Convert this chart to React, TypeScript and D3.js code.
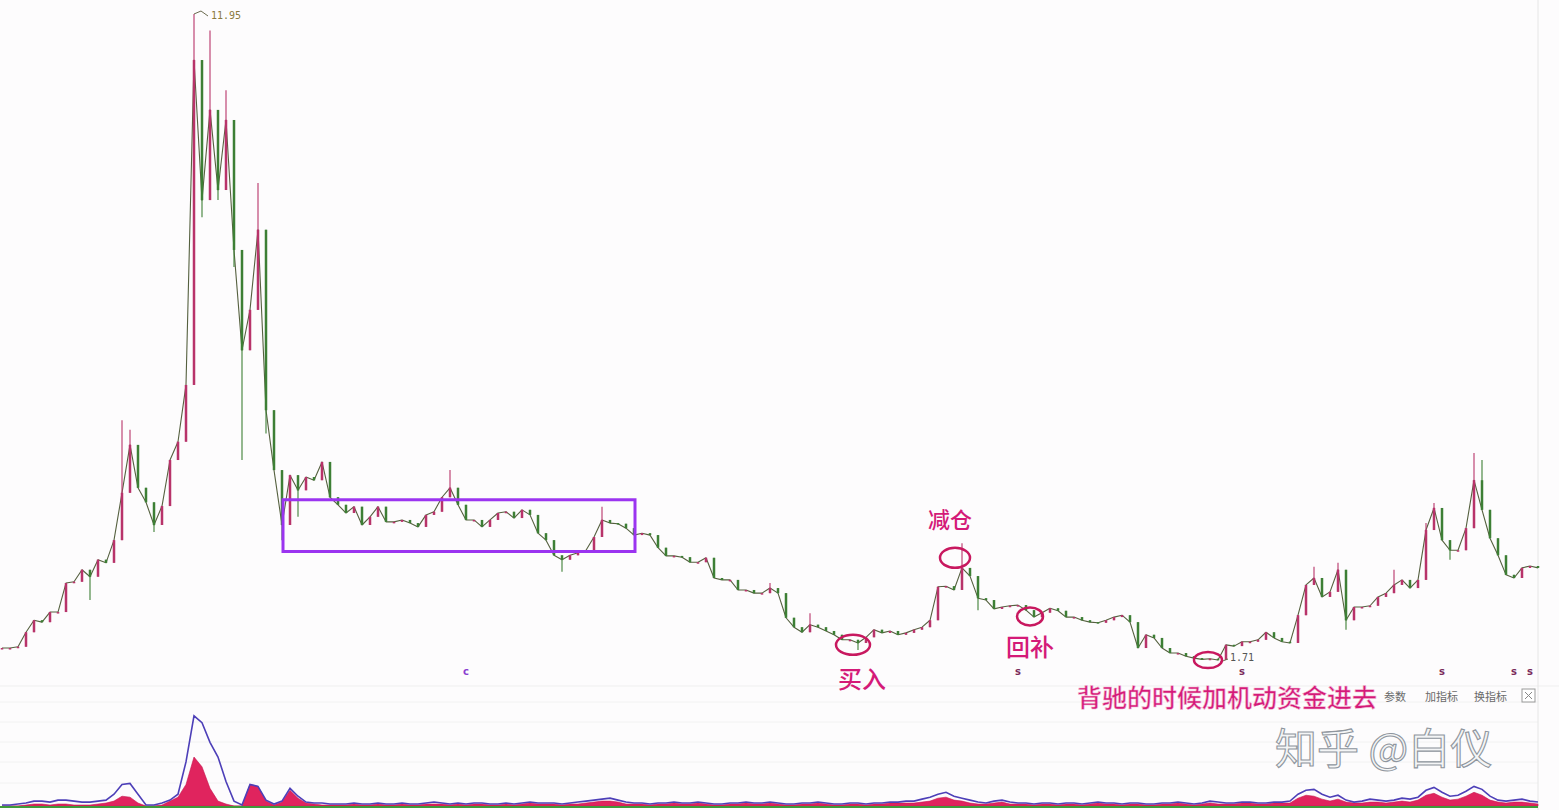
import React from "react";
import * as d3 from "d3";

// ---- price data (closes, one per candle) ----
const closes = [
  1.90, 1.90, 1.92, 2.15, 2.34, 2.31, 2.47, 2.47, 2.93, 2.95,
  3.14, 3.03, 3.30, 3.25, 3.61, 4.36, 5.12, 4.44, 4.21, 3.85,
  4.15, 4.88, 5.17, 6.07, 11.22, 9.00, 10.43, 9.16, 10.27, 8.21,
  6.62, 7.26, 8.53, 5.67, 4.72, 3.85, 4.64, 4.40, 4.61, 4.56,
  4.85, 4.29, 4.17, 4.04, 4.14, 3.85, 3.98, 4.14, 3.90, 3.90,
  3.93, 3.88, 3.82, 4.01, 4.06, 4.29, 4.44, 4.17, 3.93, 3.93,
  3.82, 3.93, 4.04, 4.06, 3.96, 4.09, 4.01, 3.72, 3.61, 3.37,
  3.30, 3.37, 3.41, 3.45, 3.66, 3.93, 3.88, 3.87, 3.80, 3.69,
  3.72, 3.69, 3.49, 3.36, 3.36, 3.34, 3.26, 3.26, 3.33, 3.01,
  2.98, 2.98, 2.82, 2.82, 2.77, 2.77, 2.85, 2.77, 2.38, 2.23,
  2.15, 2.27, 2.23, 2.17, 2.11, 2.03, 2.03, 1.98, 2.07, 2.19,
  2.14, 2.17, 2.11, 2.14, 2.19, 2.23, 2.34, 2.87, 2.88, 2.82,
  3.17, 3.04, 2.69, 2.66, 2.52, 2.55, 2.57, 2.58, 2.50, 2.39,
  2.46, 2.53, 2.49, 2.39, 2.39, 2.34, 2.31, 2.30, 2.34, 2.39,
  2.42, 2.31, 1.90, 2.11, 2.06, 1.90, 1.82, 1.82, 1.77, 1.74,
  1.72, 1.73, 1.71, 1.95, 1.93, 2.00, 2.00, 2.03, 2.15, 2.06,
  2.00, 1.98, 2.42, 2.90, 3.01, 2.71, 2.79, 3.14, 2.34, 2.55,
  2.55, 2.57, 2.71, 2.77, 2.90, 2.98, 2.85, 2.98, 3.77, 4.12,
  3.61, 3.45, 3.45, 3.80, 4.56, 4.09, 3.64, 3.37, 3.06, 3.01,
  3.17, 3.20, 3.17,
];

// long upper / lower shadows
const highIdx = [15, 16, 24, 26, 28, 29, 30, 32, 56, 75, 96, 101, 120, 164, 167, 174, 178, 179, 184, 185];
const highVal = [5.51, 5.36, 11.95, 11.69, 10.74, 9.95, 7.42, 9.27, 4.72, 4.14, 2.93, 2.45, 3.56, 3.19, 3.25, 3.14, 3.88, 4.20, 4.99, 4.88];
const lowIdx = [11, 19, 25, 27, 29, 30, 33, 35, 37, 70, 107, 122, 168, 181];
const lowVal = [2.66, 3.74, 8.73, 9.00, 7.94, 4.88, 5.30, 3.61, 3.98, 3.11, 1.87, 2.50, 2.19, 3.30];

const maxLabel = "11.95";
const minLabel = "1.71";
const priceMax = 11.95;
const priceMin = 1.71;

// ---- indicator pane ----
const indLine = [
  1, 1, 2, 3, 5, 5, 4, 6, 6, 5,
  4, 4, 5, 6, 12, 22, 23, 12, 1, 1,
  3, 6, 12, 45, 92, 85, 65, 50, 25, 5,
  1, 22, 20, 6, 2, 5, 18, 10, 4, 3,
  3, 2, 2, 2, 3, 2, 2, 3, 2, 2,
  3, 2, 2, 3, 4, 3, 2, 3, 2, 3,
  3, 2, 2, 3, 2, 3, 4, 3, 3, 3,
  2, 3, 4, 5, 6, 7, 8, 6, 4, 3,
  3, 2, 3, 3, 4, 3, 3, 4, 3, 2,
  2, 3, 3, 4, 3, 3, 4, 3, 2, 2,
  3, 3, 4, 3, 2, 2, 3, 3, 2, 3,
  3, 4, 4, 5, 5, 7, 9, 12, 14, 10,
  8, 6, 4, 3, 5, 6, 4, 3, 3, 2,
  3, 3, 2, 3, 3, 2, 3, 4, 3, 3,
  2, 3, 3, 2, 2, 3, 3, 4, 3, 2,
  3, 5, 4, 3, 3, 4, 4, 3, 3, 4,
  4, 5, 12, 16, 17, 12, 9, 11, 6, 4,
  5, 7, 6, 5, 6, 8, 7, 9, 16, 19,
  14, 10, 11, 15, 20, 17, 10, 6, 5, 6,
  7, 5, 4,
];
const indBar = [
  0, 0, 0, 1, 2, 2, 1, 2, 2, 1,
  1, 1, 2, 3, 5, 10, 9, 3, 0, 0,
  1, 5, 9, 22, 50, 40, 18, 5, 2, 0,
  0, 22, 20, 5, 1, 4, 16, 8, 3, 2,
  1, 1, 1, 1, 2, 1, 1, 2, 1, 1,
  2, 1, 1, 2, 2, 2, 1, 2, 1, 2,
  2, 1, 1, 2, 1, 2, 3, 2, 2, 2,
  1, 2, 2, 3, 4, 5, 5, 4, 2, 2,
  2, 1, 2, 2, 3, 2, 2, 3, 2, 1,
  1, 2, 2, 3, 2, 2, 3, 2, 1, 1,
  2, 2, 3, 2, 1, 1, 2, 2, 1, 2,
  2, 3, 3, 3, 3, 4, 5, 8, 9, 6,
  5, 3, 2, 2, 3, 4, 2, 2, 2, 1,
  2, 2, 1, 2, 2, 1, 2, 3, 2, 2,
  1, 2, 2, 1, 1, 2, 2, 3, 2, 1,
  2, 3, 2, 2, 2, 3, 3, 2, 2, 3,
  3, 3, 8, 11, 10, 7, 5, 7, 4, 3,
  3, 4, 4, 3, 4, 5, 4, 6, 11, 13,
  9, 6, 7, 10, 14, 11, 6, 4, 3, 4,
  4, 3, 2,
];

// ---- annotations ----
const boxStart = 35; // candle index range of the purple consolidation box
const boxEnd = 79;
const boxTop = 4.25;
const boxBottom = 3.43;
const notes = [
  { idx: 106, price: 1.95, text: "买入" },
  { idx: 119, price: 3.33, text: "减仓" },
  { idx: 128, price: 2.40, text: "回补" },
  { idx: 150, price: 1.74, text: "背驰的时候加机动资金进去" },
];
const markers = [
  { idx: 58, text: "c", color: "#8a3fd0" },
  { idx: 127, text: "s", color: "#7a2a5a" },
  { idx: 155, text: "s", color: "#7a2a5a" },
  { idx: 180, text: "s", color: "#7a2a5a" },
  { idx: 189, text: "s", color: "#7a2a5a" },
  { idx: 191, text: "s", color: "#7a2a5a" },
];
const toolbar = ["参数", "加指标", "换指标"];
const watermark = "知乎 @白仪";

const W = 1559;
const H = 810;

export default function App() {
  const n = closes.length;
  const x = d3.scaleLinear().domain([0, n - 1]).range([2, 1538]);
  const y = d3.scaleLinear().domain([priceMin, priceMax]).range([660, 14]);
  const yi = d3.scaleLinear().domain([0, 100]).range([806, 708]);

  const candles = closes.map((c, i) => {
    const o = i === 0 ? c : closes[i - 1];
    let h = Math.max(o, c);
    let l = Math.min(o, c);
    const hi = highIdx.indexOf(i);
    if (hi >= 0) h = Math.max(h, highVal[hi]);
    const li = lowIdx.indexOf(i);
    if (li >= 0) l = Math.min(l, lowVal[li]);
    return { i, o, c, h, l, up: c >= o };
  });

  const upColor = "#b8336a";
  const downColor = "#3d7f35";

  const area = d3
    .area<number>()
    .x((_, i) => x(i))
    .y0(yi(0))
    .y1((d) => yi(d));
  const line = d3
    .line<number>()
    .x((_, i) => x(i))
    .y((d) => yi(d));
  const closeLine = d3
    .line<number>()
    .x((_, i) => x(i))
    .y((d) => y(d));

  const magenta = "#d41a78";
  const ring = "#c8185f";
  const cjk = "'Noto Sans CJK SC', 'Noto Sans', sans-serif";

  const gridInd = [702, 722, 742, 762, 783];

  const peakX = x(24);
  const lowI = closes.indexOf(Math.min(...closes));

  return (
    <svg
      width={W}
      height={H}
      style={{ position: "absolute", left: 0, top: 0, background: "#fdfcfd" }}
    >
      <rect x={0} y={0} width={W} height={H} fill="#fdfcfd" />
      {gridInd.map((g) => (
        <line key={"gi" + g} x1={0} x2={1538} y1={g} y2={g} stroke="#f2f2f2" strokeWidth={1} />
      ))}
      <line x1={0} x2={1559} y1={686} y2={686} stroke="#efefef" />
      <line x1={1538} x2={1538} y1={0} y2={H} stroke="#e6e6e6" />

      {/* trace of closes (dense candles blend into a line) */}
      <path d={closeLine(closes) || ""} fill="none" stroke="#55603f" strokeWidth={1.1} strokeLinejoin="round" />

      {/* candles */}
      {candles.map((d) => {
        const col = d.up ? upColor : downColor;
        const top = y(Math.max(d.o, d.c));
        const bot = y(Math.min(d.o, d.c));
        return (
          <g key={d.i}>
            <line x1={x(d.i)} x2={x(d.i)} y1={y(d.h)} y2={y(d.l)} stroke={col} strokeWidth={1.1} />
            <rect
              x={x(d.i) - 1.25}
              y={top}
              width={2.5}
              height={Math.max(1.5, bot - top)}
              fill={col}
            />
          </g>
        );
      })}

      {/* high / low labels */}
      <path
        d={`M${peakX},${y(priceMax)} L${peakX + 7},${y(priceMax) - 3} L${peakX + 14},${y(priceMax) + 2}`}
        fill="none"
        stroke="#6b6b50"
        strokeWidth={1}
      />
      <text x={peakX + 17} y={y(priceMax) + 5} fontSize={10} fill="#8a7a40" fontFamily="'DejaVu Sans Mono', monospace">
        {maxLabel}
      </text>
      <path
        d={`M${x(lowI) + 2},${y(priceMin) + 2} L${x(lowI) + 10},${y(priceMin) - 1}`}
        fill="none"
        stroke="#6b6b50"
        strokeWidth={1}
      />
      <text x={x(lowI) + 12} y={y(priceMin) + 1} fontSize={10} fill="#555" fontFamily="'DejaVu Sans Mono', monospace">
        {minLabel}
      </text>

      {/* purple consolidation box */}
      <rect
        x={x(boxStart) + 1}
        y={y(boxTop)}
        width={x(boxEnd) - x(boxStart)}
        height={y(boxBottom) - y(boxTop)}
        fill="none"
        stroke="#9b34f0"
        strokeWidth={3}
      />

      {/* annotation rings and labels */}
      <ellipse cx={x(notes[0].idx) + 3} cy={y(notes[0].price)} rx={17} ry={10} fill="none" stroke={ring} strokeWidth={2.5} />
      <text x={x(notes[0].idx) + 12} y={688} fontSize={24} fontWeight={500} fill={magenta} textAnchor="middle" fontFamily={cjk}>
        {notes[0].text}
      </text>

      <ellipse cx={x(notes[1].idx) + 1} cy={y(notes[1].price)} rx={15} ry={10} fill="none" stroke={ring} strokeWidth={2.5} />
      <text x={x(notes[1].idx) - 4} y={528} fontSize={22} fontWeight={500} fill={magenta} textAnchor="middle" fontFamily={cjk}>
        {notes[1].text}
      </text>

      <ellipse cx={x(notes[2].idx) + 4} cy={y(notes[2].price)} rx={13} ry={9} fill="none" stroke={ring} strokeWidth={2.5} />
      <text x={x(notes[2].idx) + 4} y={656} fontSize={24} fontWeight={500} fill={magenta} textAnchor="middle" fontFamily={cjk}>
        {notes[2].text}
      </text>

      <ellipse cx={x(notes[3].idx) + 6} cy={y(notes[3].price) + 2} rx={14} ry={8} fill="none" stroke={ring} strokeWidth={2.5} />

      {/* small signal markers */}
      {markers.map((m, k) => (
        <text key={"mk" + k} x={x(m.idx)} y={675} fontSize={10} fontWeight="bold" fill={m.color} textAnchor="middle" fontFamily="'DejaVu Sans', sans-serif">
          {m.text}
        </text>
      ))}

      {/* toolbar */}
      <text x={1384} y={701} fontSize={11} fill="#6a6a6a" fontFamily={cjk}>{toolbar[0]}</text>
      <text x={1425} y={701} fontSize={11} fill="#6a6a6a" fontFamily={cjk}>{toolbar[1]}</text>
      <text x={1474} y={701} fontSize={11} fill="#6a6a6a" fontFamily={cjk}>{toolbar[2]}</text>
      <rect x={1522} y={689} width={13} height={13} fill="#fff" stroke="#999" strokeWidth={1} />
      <path d="M1525,692 L1532,699 M1532,692 L1525,699" stroke="#888" strokeWidth={1} />

      <text x={1077} y={707} fontSize={25} fontWeight={500} fill={magenta} fontFamily={cjk} stroke="#f3b6d2" strokeWidth={0.5}>
        {notes[3].text}
      </text>

      {/* watermark */}
      <text x={1275} y={764} fontSize={42} fill="#f4f5f6" stroke="#8f969e" strokeWidth={1.1} fontFamily={cjk}>
        {watermark}
      </text>

      {/* indicator pane */}
      <path d={area(indBar) || ""} fill="#e0245e" stroke="#c41a50" strokeWidth={0.6} />
      <path d={line(indLine) || ""} fill="none" stroke="#4d3fb8" strokeWidth={1.6} />
      <line x1={0} x2={1538} y1={yi(0) + 1} y2={yi(0) + 1} stroke="#3f9a3a" strokeWidth={2} />
    </svg>
  );
}
